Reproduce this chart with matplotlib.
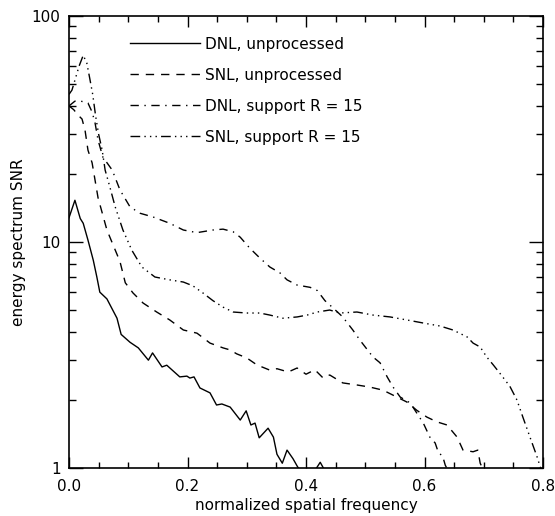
import matplotlib
matplotlib.use("Agg")
import matplotlib.pyplot as plt
from matplotlib.ticker import FixedLocator, LogLocator, NullFormatter

# DNL, unprocessed (solid)
dnl_x = [0.0, 0.005, 0.01, 0.019, 0.024, 0.032, 0.041, 0.047, 0.052, 0.064, 0.081,
         0.088, 0.103, 0.117, 0.134, 0.141, 0.157, 0.165, 0.187, 0.199, 0.204, 0.211,
         0.221, 0.238, 0.249, 0.258, 0.272, 0.289, 0.299, 0.307, 0.314, 0.321, 0.336,
         0.345, 0.351, 0.36, 0.368, 0.378, 0.386, 0.395, 0.41, 0.424, 0.435, 0.445]
dnl_y = [12.8, 14.0, 15.3, 12.7, 12.1, 10.2, 8.3, 7.0, 6.0, 5.6, 4.6,
         3.9, 3.6, 3.4, 3.0, 3.23, 2.8, 2.85, 2.53, 2.55, 2.5, 2.53,
         2.26, 2.15, 1.9, 1.92, 1.86, 1.63, 1.79, 1.55, 1.58, 1.36, 1.5,
         1.37, 1.15, 1.05, 1.2, 1.1, 1.01, 0.95, 0.93, 1.06, 0.94, 0.9]

# SNL, unprocessed (dashed)
snl_x = [0.0, 0.008, 0.015, 0.022, 0.027, 0.032, 0.039, 0.049, 0.064, 0.086, 0.095,
         0.108, 0.125, 0.148, 0.17, 0.193, 0.216, 0.238, 0.26, 0.272, 0.283, 0.3,
         0.317, 0.339, 0.351, 0.37, 0.385, 0.4, 0.415, 0.429, 0.44, 0.462, 0.486,
         0.508, 0.53, 0.547, 0.57, 0.587, 0.604, 0.621, 0.638, 0.655, 0.665, 0.682,
         0.69, 0.694, 0.7]
snl_y = [40.0, 38.5, 36.5, 35.0, 31.3, 25.5, 22.4, 15.7, 11.3, 8.2, 6.6,
         5.95, 5.37, 4.9, 4.52, 4.08, 3.95, 3.57, 3.4, 3.33, 3.2, 3.07,
         2.86, 2.71, 2.75, 2.66, 2.77, 2.6, 2.72, 2.5, 2.58, 2.38, 2.33,
         2.28, 2.21, 2.1, 1.96, 1.8, 1.68, 1.6, 1.55, 1.37, 1.2, 1.18,
         1.2, 1.05, 0.97]

# DNL, support R = 15 (dash-dot)
dnlr_x = [0.0, 0.01, 0.02, 0.032, 0.039, 0.044, 0.049, 0.057, 0.073, 0.086, 0.103,
          0.12, 0.142, 0.17, 0.193, 0.216, 0.243, 0.26, 0.277, 0.289, 0.305, 0.322,
          0.339, 0.356, 0.368, 0.385, 0.407, 0.419, 0.432, 0.446, 0.462, 0.479,
          0.491, 0.513, 0.525, 0.537, 0.547, 0.559, 0.576, 0.587, 0.598, 0.609,
          0.618, 0.623, 0.631, 0.635, 0.64]
dnlr_y = [40.0, 42.0, 42.0, 41.2, 37.6, 33.6, 28.3, 23.8, 20.8, 17.0, 14.3,
          13.4, 12.9, 12.1, 11.3, 11.0, 11.3, 11.4, 11.1, 10.5, 9.4, 8.5,
          7.75, 7.3, 6.8, 6.45, 6.3, 6.1, 5.5, 5.1, 4.66, 4.08,
          3.68, 3.1, 2.92, 2.53, 2.28, 2.06, 1.94, 1.75, 1.58, 1.37,
          1.29, 1.18, 1.12, 1.03, 0.97]

# SNL, support R = 15 (dash-dot-dot-dot)
snlr_x = [0.0, 0.005, 0.01, 0.017, 0.024, 0.03, 0.035, 0.04, 0.045, 0.05, 0.056,
          0.061, 0.069, 0.078, 0.091, 0.106, 0.123, 0.145, 0.17, 0.193, 0.209, 0.226,
          0.243, 0.26, 0.277, 0.3, 0.322, 0.339, 0.361, 0.385, 0.402, 0.419, 0.44,
          0.457, 0.486, 0.513, 0.542, 0.57, 0.598, 0.626, 0.648, 0.672, 0.682, 0.694,
          0.705, 0.716, 0.727, 0.744, 0.756, 0.766, 0.778, 0.79, 0.797]
snlr_y = [45.0, 47.0, 52.0, 60.0, 67.0, 62.0, 53.0, 45.0, 36.0, 30.0, 25.5,
          20.8, 17.5, 14.3, 11.3, 9.2, 7.75, 7.0, 6.8, 6.65, 6.4, 5.95,
          5.5, 5.15, 4.9, 4.85, 4.85, 4.75, 4.6, 4.66, 4.75, 4.9, 5.0,
          4.85, 4.9, 4.75, 4.66, 4.52, 4.38, 4.25, 4.08, 3.8, 3.57, 3.43,
          3.1, 2.86, 2.63, 2.3, 2.0, 1.68, 1.37, 1.12, 0.98]

labels = ["DNL, unprocessed", "SNL, unprocessed",
          "DNL, support R = 15", "SNL, support R = 15"]
x_ticks = [0.0, 0.2, 0.4, 0.6, 0.8]

fig = plt.figure(figsize=(5.55, 5.16), dpi=100)
ax = fig.add_axes([69 / 555, 48 / 516, 474 / 555, 452 / 516])

lw = 1.0
ax.plot(dnl_x, dnl_y, color="black", lw=lw, linestyle="-", label=labels[0])
ax.plot(snl_x, snl_y, color="black", lw=lw, linestyle=(0, (6, 5)), label=labels[1])
ax.plot(dnlr_x, dnlr_y, color="black", lw=lw, linestyle=(0, (6, 4, 1, 4)), label=labels[2])
ax.plot(snlr_x, snlr_y, color="black", lw=lw,
        linestyle=(0, (7, 3, 1, 3, 1, 3, 1, 3)), label=labels[3])

ax.set_yscale("log")
ax.set_xlim(0, 0.8)
ax.set_ylim(1, 100)

ax.xaxis.set_major_locator(FixedLocator(x_ticks))
ax.xaxis.set_minor_locator(FixedLocator([i * 0.05 for i in range(17)]))
ax.set_xticklabels([f"{t:.1f}" for t in x_ticks])
ax.yaxis.set_major_locator(FixedLocator([1, 10, 100]))
ax.yaxis.set_minor_locator(LogLocator(base=10, subs=range(2, 10)))
ax.yaxis.set_minor_formatter(NullFormatter())
ax.set_yticklabels(["1", "10", "100"])

ax.tick_params(which="both", direction="in", top=True, right=True, labelsize=11, width=1)
ax.tick_params(which="major", axis="x", length=8, pad=8)
ax.tick_params(which="minor", axis="x", length=4)
ax.tick_params(which="major", axis="y", length=10, pad=6)
ax.tick_params(which="minor", axis="y", length=5)
for s in ax.spines.values():
    s.set_linewidth(1.2)

ax.set_xlabel("normalized spatial frequency", fontsize=11, labelpad=3)
ax.set_ylabel("energy spectrum SNR", fontsize=11, labelpad=4)

ax.legend(loc="upper left", bbox_to_anchor=(0.10, 0.985), frameon=False,
          fontsize=11, handlelength=4.6, handletextpad=0.3, labelspacing=1.05)

fig.savefig("out.png", dpi=100)
